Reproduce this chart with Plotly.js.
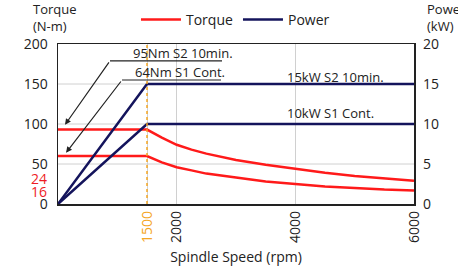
<!DOCTYPE html>
<html><head><meta charset="utf-8">
<script src="https://cdn.plot.ly/plotly-3.0.1.min.js"></script>
<style>body{margin:0;background:#fff}#c{width:458px;height:273px}</style>
</head><body><div id="c"></div>
<script>
// Data
const speedTorque = [0, 1500, 1750, 2000, 2250, 2500, 3000, 3500, 4000, 4500, 5000, 5500, 6000];
const torqueS2 = [93, 93, 83, 74, 68, 63, 55, 49, 44, 39, 35, 32, 29];
const torqueS1 = [60, 60, 52, 46, 42, 38, 33, 28, 25, 22, 20, 18, 17];
const speedPower = [0, 1500, 6000];
const powerS2 = [0, 15, 15];
const powerS1 = [0, 10, 10];
const baseSpeed = 1500;
const leftTicks = [0, 50, 100, 150, 200];
const redTicks = [24, 16];
const xTicks = [1500, 2000, 4000, 6000];
const xTickText = ['<span style="fill:#f5a623">1500</span>', '2000', '4000', '6000'];
const rightTicks = [0, 5, 10, 15, 20];

const RED = '#ff1a1a', NAVY = '#14145c', ORANGE = '#f5a623';
const F = 'Open Sans, sans-serif';
const TXT = '#222';

const traces = [
  {x: speedTorque, y: torqueS2, mode: 'lines', name: 'Torque', line: {color: RED, width: 2.5}, showlegend: true},
  {x: speedTorque, y: torqueS1, mode: 'lines', name: 'Torque', line: {color: RED, width: 2.5}, showlegend: false},
  {x: speedPower, y: powerS2, yaxis: 'y2', mode: 'lines', name: 'Power', line: {color: NAVY, width: 2.5}, showlegend: true},
  {x: speedPower, y: powerS1, yaxis: 'y2', mode: 'lines', name: 'Power', line: {color: NAVY, width: 2.5}, showlegend: false}
];

const ann = [
  {x: 118, y: 99, ax: 876, ay: 179, axref: 'x', ayref: 'y', xref: 'x', yref: 'y', text: '', showarrow: true, arrowhead: 2, arrowsize: 1, arrowwidth: 1.2, arrowcolor: TXT},
  {x: 135, y: 64, ax: 1079, ay: 155, axref: 'x', ayref: 'y', xref: 'x', yref: 'y', text: '', showarrow: true, arrowhead: 2, arrowsize: 1, arrowwidth: 1.2, arrowcolor: TXT},
  {x: 2107, y: 189, xref: 'x', yref: 'y', text: '95Nm S2 10min.', showarrow: false, font: {family: F, size: 13, color: TXT}},
  {x: 2056, y: 165, xref: 'x', yref: 'y', text: '64Nm S1 Cont.', showarrow: false, font: {family: F, size: 13, color: TXT}},
  {x: 3826, y: 159, xref: 'x', yref: 'y', xanchor: 'left', text: '15kW S2 10min.', showarrow: false, font: {family: F, size: 13, color: TXT}},
  {x: 3826, y: 114, xref: 'x', yref: 'y', xanchor: 'left', text: '10kW S1 Cont.', showarrow: false, font: {family: F, size: 13, color: TXT}},
  {x: 31, y: 18, xref: 'x', yref: 'paper', xanchor: 'left', yanchor: 'middle', text: 'Torque<br>(N-m)', showarrow: false, align: 'left', font: {family: F, size: 13, color: TXT}},
  {x: 425, y: 18, xref: 'paper', yref: 'paper', xanchor: 'left', yanchor: 'middle', text: 'Power<br>(kW)', showarrow: false, align: 'left', font: {family: F, size: 13, color: TXT}}
];
// fix title positions in pixel space
ann[6].xref = 'paper'; ann[6].x = (31 - 58) / 356; ann[6].y = 1 + (44 - 18) / 160;
ann[7].x = (425 - 58) / 356; ann[7].y = 1 + (44 - 18) / 160;
// red tick labels on left axis
redTicks.forEach((v, i) => ann.push({x: 0, xref: 'paper', y: v, yref: 'y', xanchor: 'right', xshift: -9, yshift: i === 0 ? 6 : 0,
  text: String(v), showarrow: false, font: {family: F, size: 14, color: '#ee1c24'}}));

const layout = {
  width: 458, height: 273,
  margin: {l: 58, r: 44, t: 44, b: 69, autoexpand: false},
  paper_bgcolor: '#fff', plot_bgcolor: '#fff',
  font: {family: F, size: 13, color: TXT},
  showlegend: true,
  legend: {orientation: 'h', x: 0.219, y: 1.15, xanchor: 'left', yanchor: 'middle', font: {family: F, size: 14, color: TXT}, bgcolor: 'rgba(0,0,0,0)', itemwidth: 40},
  xaxis: {range: [0, 6000], tickvals: xTicks, ticktext: xTickText, tickangle: -90, showgrid: true, gridcolor: '#d0d0d0', gridwidth: 1,
    showline: true, linecolor: TXT, linewidth: 1.5, mirror: true, zeroline: false, ticks: '', ticklen: 0, tickfont: {family: F, size: 14, color: TXT},
    title: {text: 'Spindle Speed (rpm)', font: {family: F, size: 14, color: TXT}, standoff: 10}},
  yaxis: {range: [0, 200], tickvals: leftTicks, showgrid: false, zeroline: false, tickfont: {family: F, size: 14, color: TXT},
    showline: true, linecolor: TXT, linewidth: 1.5, mirror: true, ticks: '', ticklabelstandoff: 6},
  yaxis2: {range: [0, 20], overlaying: 'y', side: 'right', tickvals: rightTicks, showgrid: false, zeroline: false, showline: false, ticks: '', ticklabelstandoff: 8, tickfont: {family: F, size: 14, color: TXT}},
  shapes: [
    {type: 'line', xref: 'paper', yref: 'y', x0: 0, x1: 1, y0: 50, y1: 50, line: {color: '#d0d0d0', width: 1}, layer: 'below'},
    {type: 'line', xref: 'paper', yref: 'y', x0: 0, x1: 1, y0: 100, y1: 100, line: {color: '#d0d0d0', width: 1}, layer: 'below'},
    {type: 'line', xref: 'paper', yref: 'y', x0: 0, x1: 1, y0: 150, y1: 150, line: {color: '#d0d0d0', width: 1}, layer: 'below'},
    {type: 'line', xref: 'x', yref: 'paper', x0: baseSpeed, x1: baseSpeed, y0: 0, y1: 1, line: {color: ORANGE, width: 1.5, dash: 'dot'}},
    {type: 'line', xref: 'x', yref: 'y', x0: 876, x1: 2764, y0: 179, y1: 179, line: {color: TXT, width: 1.2}},
    {type: 'line', xref: 'x', yref: 'y', x0: 1079, x1: 2747, y0: 155, y1: 155, line: {color: TXT, width: 1.2}}
  ],
  annotations: ann
};

Plotly.newPlot('c', traces, layout, {displayModeBar: false, staticPlot: true});
</script></body></html>
